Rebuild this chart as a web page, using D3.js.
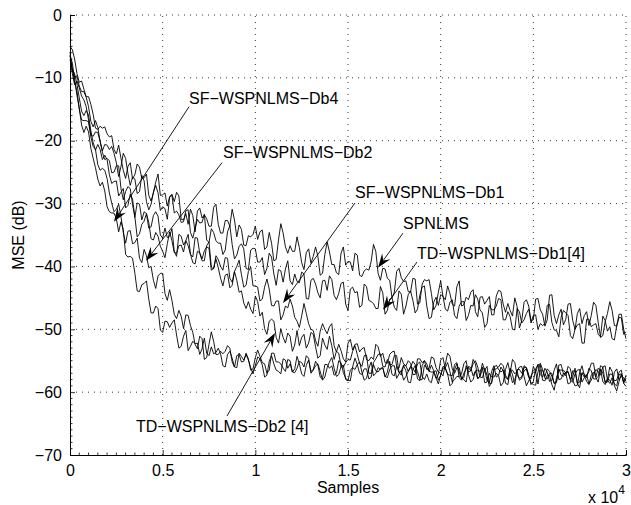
<!DOCTYPE html>
<html><head><meta charset="utf-8">
<script src="https://cdn.jsdelivr.net/npm/d3@7"></script>
<style>body{margin:0;background:#fff} text{font-family:"Liberation Sans",Arial,Helvetica,sans-serif;fill:#000}</style>
</head><body><svg id="c" width="631" height="505"></svg>
<script>
// ---------- data ----------
const sampleStep = 125; // samples between stored points (0 ... 30000)
const xTicks = [0, 5000, 10000, 15000, 20000, 25000, 30000];
const xTickLabels = ["0", "0.5", "1", "1.5", "2", "2.5", "3"];
const yTicks = [-70, -60, -50, -40, -30, -20, -10, 0];
const yTickLabels = ["\u221270", "\u221260", "\u221250", "\u221240", "\u221230", "\u221220", "\u221210", "0"];

const spnlms = [
-5.0, -5.5, -7.0, -9.3, -10.7, -10.5, -11.8, -13.0, -13.0, -14.2,
-15.8, -18.0, -18.2, -17.7, -18.0, -17.8, -18.9, -19.4, -19.2, -21.4,
-22.1, -20.7, -22.8, -24.7, -26.0, -24.1, -23.5, -26.1, -25.4, -23.7,
-24.2, -26.0, -25.9, -25.3, -28.7, -29.6, -28.3, -26.6, -25.3, -28.7,
-28.6, -28.3, -30.4, -28.9, -28.5, -29.7, -28.2, -28.8, -32.5, -32.6,
-31.6, -33.3, -30.9, -31.9, -34.5, -31.2, -30.7, -32.3, -31.8, -32.4,
-33.6, -33.6, -30.6, -30.1, -33.3, -34.7, -34.7, -32.7, -32.7, -33.6,
-30.9, -32.6, -35.3, -33.4, -34.1, -36.6, -36.7, -35.1, -35.3, -34.9,
-33.6, -35.7, -34.5, -34.2, -37.3, -36.9, -34.6, -36.3, -39.1, -38.9,
-35.8, -33.2, -34.7, -36.9, -37.9, -36.7, -37.6, -37.6, -35.3, -37.0,
-39.4, -40.5, -37.8, -37.2, -39.5, -38.4, -36.9, -38.4, -41.4, -41.1,
-38.1, -36.1, -37.7, -39.7, -39.7, -41.0, -41.3, -37.9, -36.9, -39.8,
-39.2, -39.3, -40.7, -37.9, -38.2, -41.4, -41.6, -40.7, -40.4, -40.6,
-39.2, -36.5, -37.6, -41.1, -42.2, -40.3, -40.4, -41.9, -42.2, -45.0,
-44.1, -40.8, -40.3, -41.8, -42.4, -42.3, -44.0, -44.1, -41.9, -42.0,
-46.0, -45.8, -42.8, -42.1, -42.3, -42.1, -44.3, -46.9, -46.2, -44.1,
-42.3, -44.8, -45.3, -43.1, -44.3, -46.0, -46.3, -43.2, -42.3, -46.3,
-46.1, -44.9, -45.3, -44.1, -43.7, -47.2, -48.0, -44.9, -44.8, -46.0,
-45.4, -44.8, -47.7, -47.7, -44.7, -43.8, -44.0, -46.0, -47.3, -45.9,
-47.0, -47.9, -45.0, -46.4, -49.8, -48.6, -45.7, -45.3, -46.3, -48.6,
-48.5, -45.2, -45.1, -46.9, -47.6, -49.5, -48.5, -44.6, -44.5, -47.8,
-49.1, -47.7, -46.8, -49.3, -48.4, -46.0, -45.9, -48.6, -50.0, -47.5,
-46.7, -49.1, -47.8, -47.2, -49.4, -47.8, -45.7, -46.2, -48.9, -51.3,
-51.0, -48.8, -47.5, -45.6, -47.0, -49.4, -49.5, -48.1, -48.2, -50.8,
-50.4];

const tdDb1 = [
-5.9, -8.7, -9.8, -9.7, -11.3, -12.2, -12.2, -13.1, -14.6, -16.9,
-17.8, -16.8, -17.9, -20.1, -21.6, -20.6, -20.7, -21.4, -20.9, -22.0,
-23.5, -25.7, -24.1, -22.0, -22.8, -25.2, -27.1, -25.8, -26.1, -28.4,
-28.1, -25.5, -26.4, -29.7, -31.0, -30.1, -28.2, -27.1, -28.3, -31.1,
-30.5, -30.8, -32.5, -29.0, -28.7, -31.5, -31.2, -31.8, -33.0, -32.9,
-31.1, -31.0, -34.6, -35.5, -33.9, -32.5, -33.1, -33.0, -31.7, -35.8,
-36.2, -34.0, -34.6, -35.9, -36.3, -36.3, -38.1, -37.4, -34.5, -33.5,
-36.5, -38.8, -38.2, -36.8, -36.4, -37.2, -40.3, -40.5, -37.4, -37.1,
-37.2, -39.3, -39.3, -38.6, -41.3, -40.3, -37.9, -38.5, -41.2, -43.0,
-40.5, -40.7, -42.5, -40.4, -39.1, -42.3, -42.9, -41.2, -42.4, -42.6,
-40.9, -41.2, -45.1, -45.2, -42.2, -41.9, -42.8, -44.2, -45.0, -42.3,
-42.2, -43.8, -41.5, -42.1, -44.6, -45.3, -44.3, -42.7, -42.5, -46.0,
-47.0, -43.6, -43.3, -44.2, -44.0, -46.5, -46.2, -42.8, -43.2, -45.4,
-45.6, -45.9, -46.7, -46.7, -43.2, -44.2, -47.6, -47.0, -45.2, -45.0,
-46.5, -47.0, -43.9, -44.4, -47.6, -46.3, -44.5, -43.9, -45.4, -47.4,
-46.8, -44.6, -43.3, -43.1, -46.3, -48.3, -48.1, -45.7, -44.9, -46.2,
-44.5, -44.7, -46.8, -47.1, -45.7, -45.3, -47.8, -48.3, -46.3, -45.6,
-45.6, -48.6, -47.8, -46.2, -46.3, -44.5, -45.2, -46.9, -47.4, -49.7,
-49.1, -46.2, -46.9, -46.9, -46.3, -45.1, -45.3, -48.5, -48.5, -47.2,
-48.0, -50.0, -50.1, -46.7, -47.2, -49.0, -48.5, -47.5, -46.8, -49.0,
-47.8, -47.7, -50.0, -49.1, -49.4, -49.1, -46.2, -46.0, -48.9, -50.1,
-50.2, -51.2, -48.1, -47.0, -47.4, -47.8, -51.0, -51.5, -50.0, -49.3,
-49.1, -52.2, -52.2, -48.4, -48.4, -49.6, -49.3, -49.1, -50.8, -51.2,
-47.9, -48.6, -50.3, -49.6, -51.5, -51.7, -49.4, -47.6, -47.6, -50.0,
-51.5];

const sfDb1 = [
-6.4, -9.3, -11.1, -10.5, -11.6, -12.9, -13.5, -14.6, -16.7, -19.1,
-19.3, -18.6, -18.7, -20.1, -21.9, -23.0, -22.8, -23.2, -25.1, -25.0,
-24.0, -24.0, -27.6, -29.4, -28.1, -27.3, -27.6, -30.2, -32.2, -29.9,
-30.1, -32.6, -31.3, -31.6, -33.9, -33.7, -31.9, -31.3, -32.0, -35.0,
-35.5, -33.9, -35.4, -35.2, -34.0, -37.6, -38.4, -34.9, -35.2, -36.6,
-35.9, -36.7, -38.1, -38.5, -35.4, -35.5, -37.9, -39.1, -39.1, -36.7,
-36.1, -40.1, -40.4, -38.3, -38.9, -40.0, -40.6, -38.6, -38.7, -41.9,
-42.5, -40.8, -40.0, -39.0, -41.3, -43.3, -43.0, -40.8, -40.1, -43.1,
-43.1, -43.3, -45.5, -45.2, -43.3, -42.0, -43.6, -46.2, -46.3, -45.5,
-45.5, -48.5, -47.7, -46.3, -46.6, -45.2, -46.3, -48.1, -48.7, -49.7,
-47.9, -45.9, -47.5, -49.1, -50.0, -50.2, -51.8, -52.7, -50.3, -49.1,
-50.0, -50.7, -49.6, -49.1, -52.6, -53.6, -52.4, -53.4, -54.7, -55.2,
-52.2, -51.6, -53.3, -52.4, -52.3, -53.6, -53.1, -52.9, -54.8, -55.0,
-54.4, -54.8, -52.4, -52.8, -54.3, -53.8, -55.3, -55.4, -54.0, -53.6,
-53.5, -55.9, -56.2, -54.5, -55.5, -55.8, -55.0, -55.4, -57.2, -57.2,
-54.7, -54.7, -55.3, -55.0, -56.4, -56.2, -54.4, -54.6, -56.1, -56.8,
-57.0, -57.4, -55.6, -53.8, -54.3, -56.3, -57.0, -56.1, -56.1, -57.9,
-57.7, -55.8, -56.8, -56.6, -55.5, -55.0, -56.0, -57.6, -57.7, -56.5,
-55.9, -58.6, -58.6, -56.4, -56.3, -56.0, -55.4, -55.8, -57.3, -58.0,
-56.9, -54.8, -55.3, -57.3, -57.8, -57.6, -56.6, -56.3, -57.6, -57.9,
-55.9, -56.8, -58.7, -56.5, -56.5, -57.5, -56.3, -56.7, -57.5, -58.6,
-58.5, -55.7, -55.6, -57.1, -57.0, -56.8, -57.9, -57.5, -56.2, -58.6,
-58.4, -57.0, -57.6, -57.4, -56.7, -55.4, -55.4, -57.7, -58.4, -56.3,
-57.0, -58.4, -57.9, -58.1, -58.9, -56.8, -56.3, -58.0, -57.4, -57.7,
-58.3];

const tdDb2 = [
-8.9, -8.6, -9.4, -11.0, -13.2, -15.3, -16.0, -15.2, -15.9, -18.4,
-20.3, -21.5, -20.6, -21.4, -23.0, -22.3, -23.0, -25.4, -26.8, -26.5,
-26.4, -28.8, -28.2, -27.6, -30.7, -30.3, -28.5, -29.3, -32.1, -35.3,
-34.8, -33.3, -32.8, -31.6, -33.0, -35.6, -35.8, -34.6, -35.2, -36.8,
-37.6, -38.6, -36.4, -34.5, -35.9, -37.8, -37.9, -36.7, -36.6, -37.7,
-35.9, -34.9, -38.0, -39.4, -39.6, -37.6, -37.8, -38.8, -37.5, -36.9,
-37.1, -40.6, -40.3, -38.8, -40.2, -41.9, -43.1, -41.4, -41.2, -43.4,
-43.0, -40.8, -42.2, -44.1, -43.9, -45.8, -46.7, -45.6, -46.8, -47.5,
-44.7, -45.6, -47.9, -47.3, -49.9, -50.8, -48.7, -48.4, -48.7, -51.3,
-52.2, -49.9, -51.3, -52.2, -50.6, -51.1, -53.5, -52.5, -50.2, -52.6,
-51.3, -50.8, -53.0, -52.2, -50.5, -50.8, -52.8, -54.6, -54.2, -51.4,
-52.5, -53.2, -51.1, -52.6, -54.8, -53.5, -53.8, -56.0, -56.0, -55.3,
-54.8, -54.9, -53.5, -52.6, -54.0, -55.4, -55.9, -54.2, -54.1, -57.0,
-57.0, -55.3, -54.7, -54.0, -53.9, -55.9, -56.0, -54.8, -55.7, -55.6,
-54.2, -54.2, -56.8, -57.3, -55.7, -55.8, -56.7, -56.1, -55.1, -55.6,
-57.9, -58.2, -55.8, -55.0, -55.5, -56.7, -56.8, -56.8, -57.8, -57.2,
-54.9, -54.5, -56.3, -57.2, -57.3, -57.4, -55.6, -55.3, -57.7, -58.1,
-57.0, -56.3, -56.1, -56.6, -54.8, -55.5, -57.8, -57.5, -56.4, -56.2,
-57.3, -59.1, -58.4, -56.1, -55.7, -56.4, -56.8, -56.5, -57.7, -57.9,
-56.2, -57.2, -58.8, -56.4, -56.4, -57.0, -56.1, -56.1, -57.2, -58.8,
-58.3, -56.3, -55.6, -57.2, -57.6, -56.2, -56.8, -58.3, -58.1, -56.5,
-55.5, -58.0, -57.9, -57.0, -57.4, -55.9, -56.3, -58.1, -59.0, -58.9,
-56.9, -55.8, -57.3, -58.3, -58.8, -57.3, -56.8, -57.6, -56.2, -56.5,
-58.3, -58.8, -58.0, -56.0, -56.7, -59.0, -59.8, -58.3, -57.1, -58.4,
-57.3];

const sfDb2 = [
-7.1, -8.6, -10.7, -12.1, -15.0, -16.7, -16.8, -16.8, -17.0, -19.4,
-20.9, -21.4, -23.8, -24.7, -24.4, -24.7, -26.0, -28.3, -29.9, -31.3,
-30.9, -30.1, -32.1, -34.6, -36.3, -34.4, -34.3, -36.4, -36.2, -35.5,
-38.7, -39.4, -37.3, -38.3, -40.2, -40.0, -42.2, -43.5, -41.5, -41.1,
-41.1, -44.3, -45.4, -43.7, -45.4, -47.6, -48.3, -47.0, -47.9, -49.9,
-47.7, -47.8, -49.4, -50.5, -52.4, -53.1, -51.1, -51.5, -54.8, -54.5,
-52.4, -50.4, -51.9, -54.0, -54.0, -53.5, -53.9, -53.5, -52.6, -53.0,
-55.2, -56.0, -54.2, -54.0, -55.2, -55.1, -53.8, -54.7, -56.5, -56.3,
-54.5, -53.3, -54.3, -55.3, -55.5, -57.0, -56.5, -53.8, -53.8, -55.2,
-55.2, -55.5, -56.2, -56.7, -54.8, -55.0, -56.8, -56.9, -56.2, -55.1,
-55.3, -56.0, -54.2, -54.6, -57.0, -56.5, -55.8, -55.5, -56.7, -58.1,
-57.6, -56.1, -55.2, -54.5, -56.2, -57.5, -57.2, -55.9, -55.7, -58.0,
-58.2, -56.5, -56.1, -56.4, -55.6, -55.2, -56.8, -58.1, -57.8, -56.2,
-55.2, -57.4, -57.0, -56.1, -56.4, -56.1, -57.6, -56.8, -55.1, -57.2,
-57.4, -55.9, -56.9, -56.6, -55.8, -56.6, -58.4, -58.5, -56.4, -55.8,
-56.7, -58.0, -58.0, -55.7, -56.1, -56.7, -55.7, -56.6, -57.7, -58.7,
-57.3, -55.9, -56.1, -57.1, -59.0, -58.6, -56.4, -55.5, -56.8, -57.8,
-58.0, -58.4, -55.9, -56.1, -57.4, -56.7, -57.9, -57.4, -55.4, -56.5,
-58.1, -58.5, -56.7, -55.8, -57.6, -57.3, -56.0, -56.6, -58.6, -58.8,
-56.5, -56.5, -57.1, -56.7, -58.1, -57.8, -55.8, -56.1, -57.6, -58.5,
-58.8, -58.9, -56.8, -55.4, -56.4, -57.8, -57.9, -57.0, -57.0, -58.6,
-58.3, -56.3, -57.3, -57.5, -56.8, -56.7, -58.1, -58.4, -57.1, -56.5,
-56.4, -58.4, -57.7, -57.2, -58.7, -58.1, -57.2, -56.4, -56.7, -57.3,
-56.0, -55.8, -58.1, -58.6, -57.7, -58.7, -59.0, -57.2, -57.1, -58.6,
-57.8];

const sfDb4 = [
-6.5, -7.6, -10.3, -12.8, -14.8, -17.5, -18.7, -17.7, -18.6, -21.2,
-22.8, -24.3, -26.1, -27.2, -26.6, -28.0, -30.5, -31.3, -31.5, -31.5,
-32.4, -34.5, -32.9, -34.1, -38.1, -38.5, -38.4, -38.7, -41.1, -43.9,
-44.0, -42.9, -42.7, -42.3, -45.2, -47.4, -47.4, -46.3, -46.7, -50.1,
-50.5, -48.7, -48.8, -49.7, -49.0, -48.5, -50.9, -53.0, -52.7, -51.1,
-50.2, -53.4, -52.7, -51.9, -52.3, -52.2, -54.0, -53.1, -51.4, -53.8,
-54.2, -52.8, -53.9, -53.7, -53.0, -53.9, -55.8, -56.0, -54.0, -53.5,
-54.6, -56.0, -56.1, -53.8, -54.3, -54.9, -54.0, -54.9, -56.1, -57.1,
-55.8, -54.4, -54.7, -55.7, -57.6, -57.3, -55.1, -54.2, -55.5, -56.5,
-56.7, -57.1, -54.7, -54.9, -56.2, -55.5, -56.8, -56.3, -54.3, -55.5,
-57.1, -57.5, -55.7, -54.9, -56.7, -56.4, -55.1, -55.7, -57.6, -57.9,
-55.6, -55.6, -56.2, -55.8, -57.3, -57.0, -55.0, -55.3, -56.9, -57.8,
-58.1, -58.2, -56.0, -54.6, -55.6, -57.0, -57.2, -56.3, -56.3, -57.9,
-57.6, -55.6, -56.6, -56.8, -56.2, -56.1, -57.5, -57.7, -56.4, -55.8,
-55.8, -57.8, -57.1, -56.6, -58.1, -57.5, -56.7, -55.9, -56.2, -56.8,
-55.5, -55.2, -57.5, -58.0, -57.1, -58.2, -58.5, -56.7, -56.6, -58.1,
-57.3, -56.2, -56.1, -55.3, -56.7, -58.4, -58.0, -57.5, -57.5, -57.1,
-55.5, -55.0, -57.2, -58.4, -58.0, -56.6, -56.5, -56.7, -56.0, -58.5,
-58.4, -57.0, -57.6, -57.6, -57.0, -57.4, -59.0, -58.5, -56.4, -55.3,
-57.0, -58.5, -58.0, -56.7, -56.0, -55.9, -57.5, -59.0, -58.2, -57.4,
-56.8, -56.9, -55.6, -55.7, -58.1, -58.2, -57.3, -57.3, -58.8, -59.7,
-57.7, -56.5, -56.5, -56.5, -57.0, -58.7, -58.5, -56.6, -56.7, -58.6,
-59.3, -56.9, -57.1, -57.7, -56.2, -56.6, -57.9, -57.9, -57.5, -55.8,
-56.0, -58.5, -58.4, -57.1, -57.2, -58.2, -58.1, -56.8, -56.5, -58.6,
-59.1];

const seriesList = [spnlms, tdDb1, sfDb1, tdDb2, sfDb2, sfDb4];

// annotation labels with text anchor, line start and arrow tip (data units: samples, dB)
const annLabels = ["SF\u2212WSPNLMS\u2212Db4", "SF\u2212WSPNLMS\u2212Db2", "SF\u2212WSPNLMS\u2212Db1",
                   "SPNLMS", "TD\u2212WSPNLMS\u2212Db1[4]", "TD\u2212WSPNLMS\u2212Db2 [4]"];
const annText  = [[6421, -13.2], [8255, -21.8], [15378, -28.3], [17968, -33.1], [18723, -37.9], [3561, -65.5]];
const annStart = [[6421, -14.6], [8201, -23.5], [15378, -29.9], [17968, -34.7], [18723, -39.3], [8471, -63.8]];
const annTip   = [[2374, -32.9], [4101, -39.1], [11493, -45.8], [16619, -40.2], [16888, -46.9], [11061, -50.6]];

// ---------- drawing ----------
const W = 631, H = 505;
const m = {l: 70, r: 5, t: 15, b: 50};
const svg = d3.select("#c");
const x = d3.scaleLinear().domain([0, 30000]).range([m.l, W - m.r]);
const y = d3.scaleLinear().domain([-70, 0]).range([H - m.b, m.t]);

// grid (dotted)
const grid = svg.append("g").attr("stroke", "#000").attr("stroke-width", 0.8)
  .attr("stroke-dasharray", "1,5").attr("fill", "none");
xTicks.filter(v => v !== 0).forEach(v => {
  grid.append("line").attr("x1", x(v)).attr("x2", x(v)).attr("y1", y(-70)).attr("y2", y(0));
});
yTicks.filter(v => v !== -70).forEach(v => {
  grid.append("line").attr("x1", x(0)).attr("x2", x(30000)).attr("y1", y(v)).attr("y2", y(v));
});

// minor ticks
const minorX = d3.range(0, 30001, 500).filter(v => !xTicks.includes(v));
const minorY = d3.range(-70, 1, 1).filter(v => !yTicks.includes(v));
const mt = svg.append("g").attr("stroke", "#000").attr("stroke-width", 0.8);
minorX.forEach(v => mt.append("line").attr("x1", x(v)).attr("x2", x(v)).attr("y1", y(-70)).attr("y2", y(-70) - 2.5));
minorY.forEach(v => mt.append("line").attr("x1", x(0)).attr("x2", x(0) + 2.5).attr("y1", y(v)).attr("y2", y(v)));

// axes
const xAxis = d3.axisBottom(x).tickValues(xTicks).tickSize(-5).tickPadding(10)
  .tickFormat((d, i) => xTickLabels[i]);
const yAxis = d3.axisLeft(y).tickValues(yTicks).tickSize(-5).tickPadding(8)
  .tickFormat((d, i) => yTickLabels[i]);
const gx = svg.append("g").attr("transform", `translate(0,${y(-70)})`).call(xAxis);
const gy = svg.append("g").attr("transform", `translate(${x(0)},0)`).call(yAxis);
[gx, gy].forEach(g => {
  g.select(".domain").attr("stroke", "#000").attr("stroke-width", 1);
  g.selectAll(".tick line").attr("stroke", "#000").attr("stroke-width", 0.8);
  g.selectAll(".tick text").attr("font-size", 16).attr("font-family", '"Liberation Sans",Arial,sans-serif').attr("fill", "#000");
});

// curves
const line = d3.line().x((d, i) => x(i * sampleStep)).y(d => y(d));
svg.append("g").selectAll("path").data(seriesList).join("path")
  .attr("d", line).attr("fill", "none").attr("stroke", "#000").attr("stroke-width", 0.9)
  .attr("stroke-linejoin", "round");

// annotations
const ann = svg.append("g");
annLabels.forEach((lab, i) => {
  const [sx, sy] = [x(annStart[i][0]), y(annStart[i][1])];
  const [tx, ty] = [x(annTip[i][0]), y(annTip[i][1])];
  const dx = tx - sx, dy = ty - sy, len = Math.hypot(dx, dy);
  const ux = dx / len, uy = dy / len, nx = -uy, ny = ux;
  const L = 14, Wd = 5, Lb = 9;
  ann.append("line").attr("x1", sx).attr("y1", sy)
    .attr("x2", tx - Lb * ux).attr("y2", ty - Lb * uy)
    .attr("stroke", "#000").attr("stroke-width", 0.9);
  const pts = [[tx, ty], [tx - L * ux + Wd * nx, ty - L * uy + Wd * ny],
               [tx - Lb * ux, ty - Lb * uy], [tx - L * ux - Wd * nx, ty - L * uy - Wd * ny]];
  ann.append("path").attr("d", "M" + pts.map(p => p.join(",")).join("L") + "Z").attr("fill", "#000");
  ann.append("text").attr("x", x(annText[i][0])).attr("y", y(annText[i][1]))
    .attr("dy", "0.35em").attr("font-size", 16).text(lab);
});

// axis labels
svg.append("text").attr("x", (x(0) + x(30000)) / 2).attr("y", 493)
  .attr("text-anchor", "middle").attr("font-size", 16).text("Samples");
svg.append("text").attr("transform", `translate(24,${(y(0) + y(-70)) / 2}) rotate(-90)`)
  .attr("text-anchor", "middle").attr("font-size", 16).text("MSE (dB)");
const ex = svg.append("text").attr("x", 588).attr("y", 503).attr("font-size", 16);
ex.append("tspan").text("x 10");
ex.append("tspan").attr("dy", -9).attr("font-size", 12).text("4");
</script></body></html>
